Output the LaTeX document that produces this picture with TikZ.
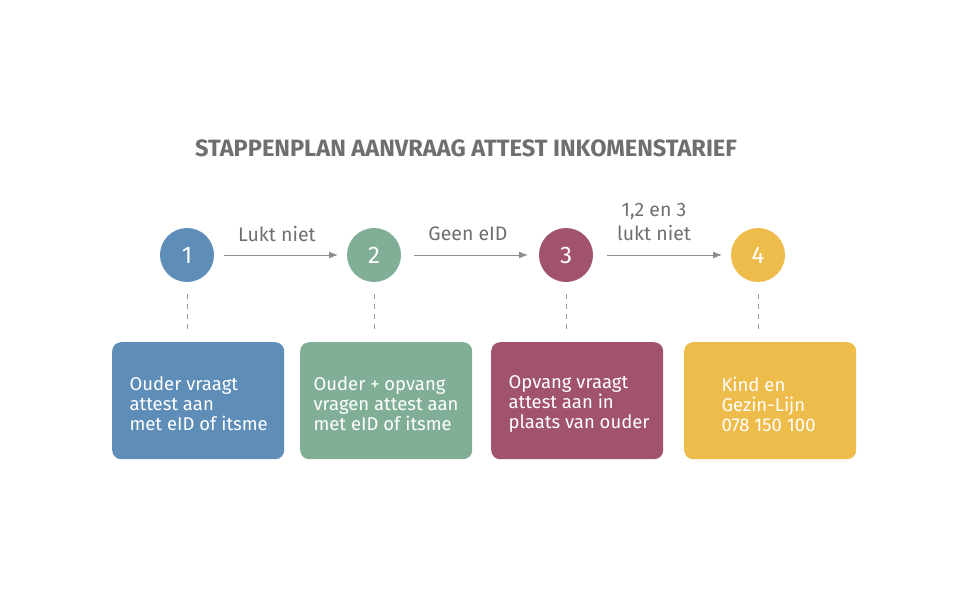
\documentclass[tikz,border=0pt]{standalone}
\usepackage{fontspec}
\setmainfont{Fira Sans}
\usetikzlibrary{arrows.meta}
\definecolor{cb}{HTML}{5E8DB8}
\definecolor{cg}{HTML}{80AE96}
\definecolor{cr}{HTML}{A0536B}
\definecolor{cy}{HTML}{EDBC4A}
\definecolor{tg}{HTML}{6F6F6F}
\tikzset{
  num/.style={circle,minimum size=54pt,inner sep=0pt,text=white,font=\fontsize{24}{26}\selectfont},
  card/.style={rounded corners=9pt,minimum width=172pt,minimum height=117pt,anchor=north west,inner sep=0pt},
  ctext/.style={text=white,align=left,anchor=west,font=\fontsize{18.5}{20}\selectfont},
  conn/.style={draw=tg!80,line width=1pt,-{Latex[length=9pt,width=7pt]}},
  lbl/.style={text=tg,font=\fontsize{19.5}{24}\selectfont,align=center},
  dashline/.style={draw=tg!70,line width=1pt,dash pattern=on 5pt off 5pt}
}
\begin{document}
\begin{tikzpicture}[x=1pt,y=-1pt]
\useasboundingbox (0,0) rectangle (960,600);
\node[text=tg,font=\bfseries\fontsize{23.6}{26}\selectfont] (title) at (466,148) {STAPPENPLAN AANVRAAG ATTEST INKOMENSTARIEF};
\node[num,fill=cb] (n1) at (187,255) {1};
\node[num,fill=cg] (n2) at (374,255) {2};
\node[num,fill=cr] (n3) at (566,255) {3};
\node[num,fill=cy] (n4) at (758,255) {4};
\draw[conn] (n1) ++(37,0) coordinate (a1) -- ++(114,0) coordinate (b1);
\draw[conn] (n2) ++(40,0) coordinate (a2) -- ++(114,0) coordinate (b2);
\draw[conn] (n3) ++(41,0) coordinate (a3) -- ++(115,0) coordinate (b3);
\node[lbl] (l1) at (277,234) {Lukt niet};
\node[lbl] (l2) at (468,234) {Geen eID};
\node[lbl] (l3) at (654,222) {1,2 en 3\\lukt niet};
\node[card,fill=cb] (c1) at (112,342) {};
\node[card,fill=cg] (c2) at (300,342) {};
\node[card,fill=cr] (c3) at (491,342) {};
\node[card,fill=cy] (c4) at (684,342) {};
\foreach \i in {1,2,3,4}{
  \draw[dashline] (n\i.south) ++(0,12) coordinate (d\i) -- (n\i.south |- 0,330);
}
\node[ctext] (t1) at (126,404) {Ouder vraagt\\attest aan\\met eID of itsme};
\node[ctext] (t2) at (310,404) {Ouder + opvang\\vragen attest aan\\met eID of itsme};
\node[ctext] (t3) at (505,404) {Opvang vraagt\\attest aan in\\plaats van ouder};
\node[ctext] (t4) at (718,404) {Kind en\\Gezin-Lijn\\078 150 100};
\end{tikzpicture}
\end{document}
